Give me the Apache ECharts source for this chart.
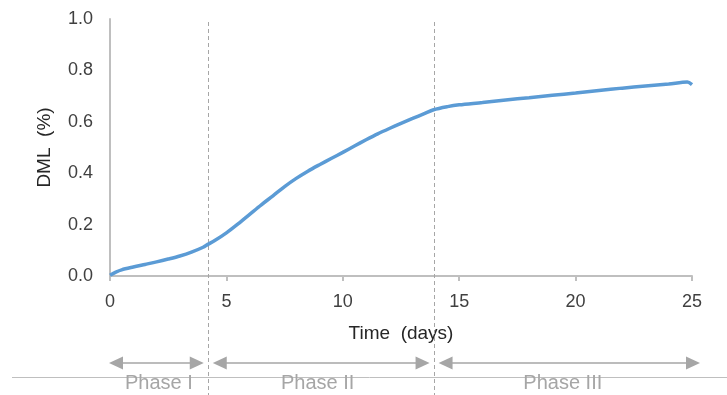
<!DOCTYPE html>
<html>
<head>
<meta charset="utf-8">
<script src="https://cdn.jsdelivr.net/npm/echarts@6/dist/echarts.min.js"></script>
<style>
html,body{margin:0;padding:0;background:#fff;}
#chart{width:727px;height:395px;}
</style>
</head>
<body>
<div id="chart"></div>
<script>
// Data
var days = [0, 0.25, 0.5, 1, 1.5, 2, 2.5, 3, 3.5, 4, 4.2, 4.5, 5, 5.5, 6, 6.5, 7, 7.5, 8, 8.5, 9, 9.5, 10, 10.5, 11, 11.5, 12, 12.5, 13, 13.5, 13.9, 14.5, 15, 16, 17, 18, 19, 20, 21, 22, 23, 24, 24.8, 25];
var dml = [0.003, 0.015, 0.024, 0.035, 0.045, 0.055, 0.066, 0.078, 0.093, 0.112, 0.123, 0.138, 0.168, 0.203, 0.240, 0.277, 0.312, 0.348, 0.380, 0.408, 0.433, 0.457, 0.481, 0.506, 0.530, 0.553, 0.574, 0.594, 0.613, 0.632, 0.647, 0.659, 0.666, 0.675, 0.685, 0.694, 0.703, 0.712, 0.722, 0.731, 0.739, 0.747, 0.755, 0.745];
var phaseBounds = [0, 4.2, 13.9, 25];
var phaseLabels = ["Phase I", "Phase II", "Phase III"];
var xTicks = [0, 5, 10, 15, 20, 25];
var yTicks = [0.0, 0.2, 0.4, 0.6, 0.8, 1.0];

var chart = echarts.init(document.getElementById('chart'), null, {renderer: 'canvas'});
var FONT = 'Liberation Sans, Arial, sans-serif';
var GRAY = '#a6a6a6';

var seriesData = days.map(function (d, i) { return [d, dml[i]]; });

chart.setOption({
  animation: false,
  grid: {left: 110, right: 35, top: 19, bottom: 119, containLabel: false},
  xAxis: {
    type: 'value', min: xTicks[0], max: xTicks[xTicks.length - 1], interval: xTicks[1] - xTicks[0],
    name: 'Time  (days)', nameLocation: 'middle', nameGap: 48,
    nameTextStyle: {fontFamily: FONT, fontSize: 19, color: '#262626'},
    axisLine: {show: true, lineStyle: {color: '#bfbfbf', width: 2}},
    axisTick: {show: true, length: 5, lineStyle: {color: '#bfbfbf', width: 2}},
    axisLabel: {fontFamily: FONT, fontSize: 18, color: '#404040', margin: 17},
    splitLine: {show: false}
  },
  yAxis: {
    type: 'value', min: yTicks[0], max: yTicks[yTicks.length - 1], interval: yTicks[1] - yTicks[0],
    name: 'DML  (%)', nameLocation: 'middle', nameGap: 56, nameRotate: 90,
    nameTextStyle: {fontFamily: FONT, fontSize: 19, color: '#262626'},
    axisLine: {show: true, lineStyle: {color: '#bfbfbf', width: 2}},
    axisTick: {show: false},
    axisLabel: {fontFamily: FONT, fontSize: 18, color: '#404040', margin: 17,
      formatter: function (v) { return v.toFixed(1); }},
    splitLine: {show: false}
  },
  series: [{
    type: 'line', data: seriesData, showSymbol: false, smooth: 0.3,
    lineStyle: {color: '#5b9bd5', width: 3.5},
    z: 5
  }]
});

function px(x, y) { return chart.convertToPixel({gridIndex: 0}, [x, y]); }

var graphics = [];
var bottomY = 395;
var topPx = px(0, 1)[1] + 3;
var arrowY = 363;
// bottom rule
graphics.push({type: 'line', shape: {x1: 12, y1: 377.5, x2: 727, y2: 377.5}, style: {stroke: '#bfbfbf', lineWidth: 1}, z: 1});
// dashed phase boundaries (interior)
for (var i = 1; i < phaseBounds.length - 1; i++) {
  var bx = Math.round(px(phaseBounds[i], 0)[0]) + 0.5;
  graphics.push({type: 'line', shape: {x1: bx, y1: topPx, x2: bx, y2: bottomY},
    style: {stroke: GRAY, lineWidth: 1, lineDash: [4, 3]}, z: 1});
}
function arrowHead(x, dir) {
  var L = 14, H = 6.5;
  return {type: 'polygon', shape: {points: [[x, arrowY], [x - dir * L, arrowY - H], [x - dir * L, arrowY + H]]},
    style: {fill: GRAY}, z: 2};
}
for (var j = 0; j < phaseLabels.length; j++) {
  var xa = px(phaseBounds[j], 0)[0];
  var xb = px(phaseBounds[j + 1], 0)[0];
  var a = xa + (j === 0 ? -1 : 5);
  var b = xb + (j === phaseLabels.length - 1 ? 8 : -4);
  graphics.push({type: 'line', shape: {x1: a + 6, y1: arrowY, x2: b - 6, y2: arrowY},
    style: {stroke: GRAY, lineWidth: 1.5}, z: 2});
  graphics.push(arrowHead(a, -1));
  graphics.push(arrowHead(b, 1));
  graphics.push({type: 'text', x: (xa + xb) / 2 + (j === 1 ? -3 : 0), y: 373,
    style: {text: phaseLabels[j], fontFamily: FONT, fontSize: 20, fill: GRAY, align: 'center', verticalAlign: 'top'}, z: 3});
}

chart.setOption({graphic: graphics});
</script>
</body>
</html>
